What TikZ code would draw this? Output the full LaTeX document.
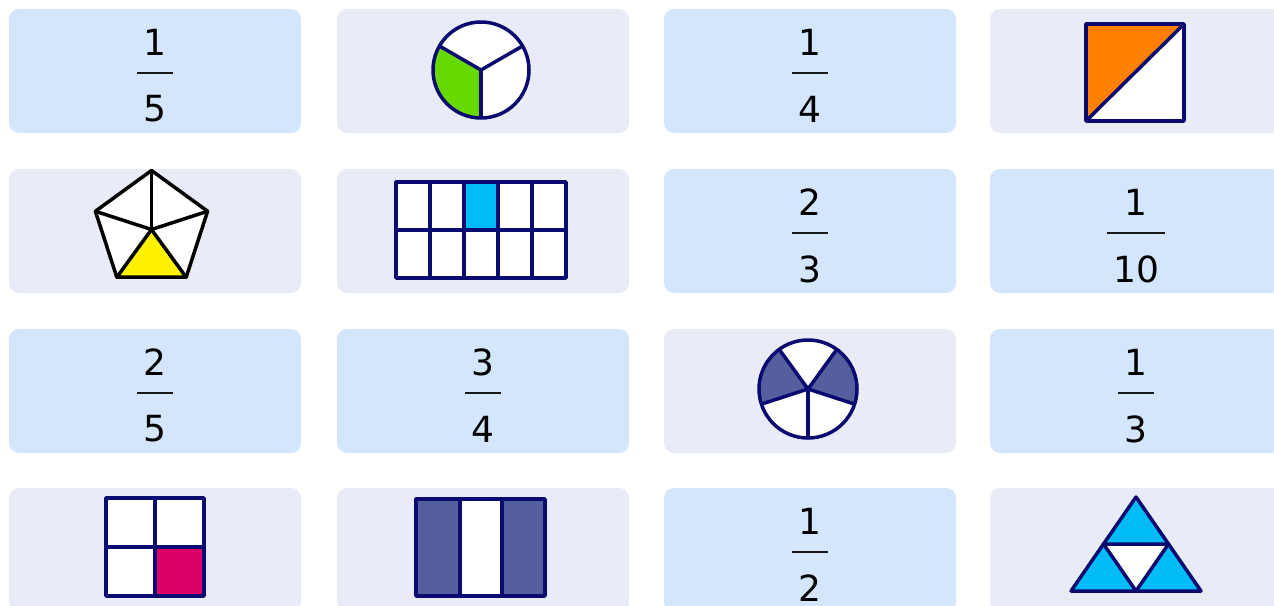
\documentclass[tikz,border=0pt]{standalone}
\usepackage{fontspec}
\setmainfont{DejaVu Sans}
\usetikzlibrary{calc}
\definecolor{cardblue}{HTML}{D3E6FC}
\definecolor{cardgray}{HTML}{E9ECF6}
\definecolor{ink}{HTML}{0A0A70}
\definecolor{leaf}{HTML}{66D900}
\definecolor{sky}{HTML}{00BBF5}
\definecolor{slate}{HTML}{555FA0}
\definecolor{berry}{HTML}{DD0066}
\definecolor{tangerine}{HTML}{FF8000}
\tikzset{
  card/.style={rounded corners=10pt, minimum width=292pt, minimum height=124pt, inner sep=0pt, draw=none},
  bluecard/.style={card, fill=cardblue},
  graycard/.style={card, fill=cardgray},
  digit/.style={inner sep=0pt, font=\fontsize{36}{40}\selectfont, text=black},
  fracbar/.style={line width=2.5pt, draw=black!90},
  outline/.style={draw=ink, line width=3.5pt, line join=round},
  blackline/.style={draw=black, line width=3.5pt, line join=round}
}
\newcommand\fraccard[5]{%
  \node[bluecard] (#1) at (#2,-#3) {};
  \node[digit] (#1n) at (#2,-#3+28.5) {#4};
  \node[digit] (#1d) at (#2,-#3-38) {#5};
  \coordinate (#1b) at (#2,-#3-2);
  \draw[fracbar] ($(#1d.west |- #1b)+(-6,0)$) -- ($(#1d.east |- #1b)+(6,0)$);
}
\begin{document}
\begin{tikzpicture}[x=1pt,y=1pt]
\useasboundingbox[fill=white] (0,0) rectangle (1274,-605);
% row 1
\fraccard{a}{155}{71}{1}{5}
\node[graycard] (b) at (483,-71) {};
\coordinate (bc) at (481,-70);
\fill[white] (bc) circle[radius=48];
\fill[leaf] (bc) -- ++(150:48) arc[start angle=150,end angle=270,radius=48] -- cycle;
\draw[outline] (bc) circle[radius=48];
\draw[outline] (bc) -- ++(30:48);
\draw[outline] (bc) -- ++(150:48);
\draw[outline] (bc) -- ++(270:48);
\fraccard{c}{810}{71}{1}{4}
\node[graycard] (d) at (1136,-71) {};
\fill[white] (1086,-24) rectangle (1184,-121);
\fill[tangerine] (1086,-24) -- (1184,-24) -- (1086,-121) -- cycle;
\draw[outline] (1086,-24) rectangle (1184,-121);
\draw[outline] (1086,-121) -- (1184,-24);
% row 2
\node[graycard] (e) at (155,-231) {};
\coordinate (ec) at (151.5,-229.5);
\fill[white] ($(ec)+(90:59)$) -- ($(ec)+(162:59)$) -- ($(ec)+(234:59)$) -- ($(ec)+(306:59)$) -- ($(ec)+(18:59)$) -- cycle;
\fill[yellow] (ec) -- ($(ec)+(234:59)$) -- ($(ec)+(306:59)$) -- cycle;
\draw[blackline] ($(ec)+(90:59)$) -- ($(ec)+(162:59)$) -- ($(ec)+(234:59)$) -- ($(ec)+(306:59)$) -- ($(ec)+(18:59)$) -- cycle;
\foreach \a in {90,162,234,306,18} { \draw[blackline] (ec) -- ($(ec)+(\a:59)$); }
\node[graycard] (f) at (483,-231) {};
\fill[white] (396,-182) rectangle (566,-278);
\fill[sky] (464,-182) rectangle (498,-230);
\draw[outline] (396,-182) rectangle (566,-278);
\draw[outline] (396,-230) -- (566,-230);
\foreach \x in {430,464,498,532} { \draw[outline] (\x,-182) -- (\x,-278); }
\fraccard{g}{810}{231}{2}{3}
\fraccard{h}{1136}{231}{1}{10}
% row 3
\fraccard{i}{155}{391}{2}{5}
\fraccard{j}{483}{391}{3}{4}
\node[graycard] (k) at (810,-391) {};
\coordinate (kc) at (808,-389);
\fill[white] (kc) circle[radius=49];
\fill[slate] (kc) -- ++(126:49) arc[start angle=126,end angle=198,radius=49] -- cycle;
\fill[slate] (kc) -- ++(-18:49) arc[start angle=-18,end angle=54,radius=49] -- cycle;
\draw[outline] (kc) circle[radius=49];
\foreach \a in {54,126,198,270,342} { \draw[outline] (kc) -- ++(\a:49); }
\fraccard{l}{1136}{391}{1}{3}
% row 4
\node[graycard] (m) at (155,-550) {};
\fill[white] (106,-498) rectangle (204,-596);
\fill[berry] (155,-547) rectangle (204,-596);
\draw[outline] (106,-498) rectangle (204,-596);
\draw[outline] (155,-498) -- (155,-596);
\draw[outline] (106,-547) -- (204,-547);
\node[graycard] (n) at (483,-550) {};
\fill[slate] (416,-499) rectangle (545,-596);
\fill[white] (460,-499) rectangle (502,-596);
\draw[outline] (416,-499) rectangle (545,-596);
\draw[outline] (460,-499) -- (460,-596);
\draw[outline] (502,-499) -- (502,-596);
\fraccard{o}{810}{550}{1}{2}
\node[graycard] (p) at (1136,-550) {};
\fill[sky] (1136,-497) -- (1071,-591) -- (1201,-591) -- cycle;
\fill[white] (1103.5,-544) -- (1168.5,-544) -- (1136,-591) -- cycle;
\draw[outline] (1136,-497) -- (1071,-591) -- (1201,-591) -- cycle;
\draw[outline] (1103.5,-544) -- (1168.5,-544) -- (1136,-591) -- cycle;
\end{tikzpicture}
\end{document}
